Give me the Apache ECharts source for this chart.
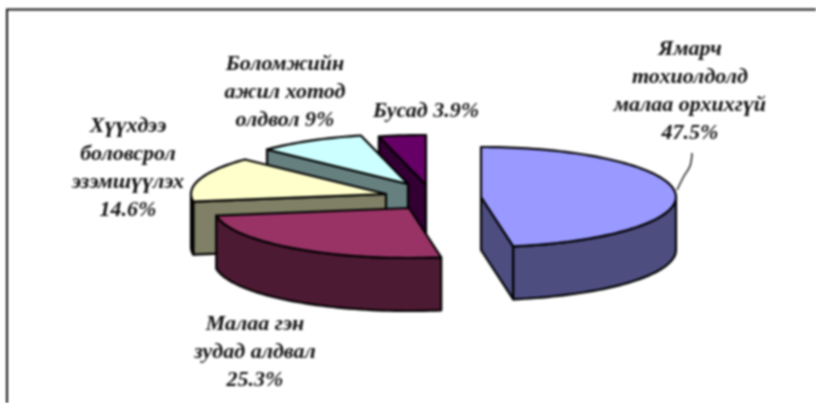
<!DOCTYPE html>
<html><head><meta charset="utf-8">
<style>html,body{margin:0;padding:0;background:#fff;overflow:hidden}#c{width:816px;height:403px;filter:blur(0.85px)}</style>
<script src="https://cdn.jsdelivr.net/npm/echarts@6/dist/echarts.min.js"></script>
</head><body><div id="c"></div>
<script>
const categories = [
  ['Ямарч','тохиолдолд','малаа орхихгүй'],
  ['Малаа гэн','зудад алдвал'],
  ['Хүүхдээ','боловсрол','эзэмшүүлэх'],
  ['Боломжийн','ажил хотод','олдвол'],
  ['Бусад']
];
const values = [47.5, 25.3, 14.6, 9, 3.9];
const topColors = ['#9999FF','#993366','#FFFFCC','#CCFFFF','#660066'];
const sideColors = ['#4D4D80','#4D1A33','#808066','#668080','#330033'];
const apexes = [[481,197],[409,208],[386,194],[408,184],[426,185]];
const labelAnchors = [[690,50],[255,325],[128,127],[285,65],[426,112]];
const inlineValue = [false,false,false,true,true];
const RX=195, RY=50, DEPTH=53, LINE=28;

const total = values.reduce((a,b)=>a+b,0);
const ranges = []; let acc = 0;
values.forEach(v=>{ const s=acc/total*Math.PI*2; acc+=v; ranges.push([s,acc/total*Math.PI*2]); });

function rim(c,t){ return [c[0]+RX*Math.sin(t), c[1]-RY*Math.cos(t)]; }
function arc(c,a,b,dy){ const n=Math.max(2,Math.ceil((b-a)/0.03)), p=[];
  for(let i=0;i<=n;i++){ const q=rim(c,a+(b-a)*i/n); p.push([q[0],q[1]+dy]); } return p; }
function poly(points,fill,z2){ return {type:'polygon',z2,shape:{points},style:{fill,stroke:'#000',lineWidth:2.2,lineJoin:'round'}}; }

function renderItem(params,api){
  const i=params.dataIndex;
  const c=apexes[i], [a,b]=ranges[i], kids=[], base=(values.length-i)*10;
  if(Math.sin(a)<-0.001){ const r=rim(c,a); kids.push(poly([c,r,[r[0],r[1]+DEPTH],[c[0],c[1]+DEPTH]],sideColors[i],base)); }
  if(Math.sin(b)>0.001){ const r=rim(c,b); kids.push(poly([c,r,[r[0],r[1]+DEPTH],[c[0],c[1]+DEPTH]],sideColors[i],base)); }
  const wa=Math.max(a,Math.PI/2), wb=Math.min(b,Math.PI*1.5);
  if(wb>wa){ kids.push(poly(arc(c,wa,wb,0).concat(arc(c,wa,wb,DEPTH).reverse()),sideColors[i],base+1)); }
  kids.push(poly([c].concat(arc(c,a,b,0)),topColors[i],base+2));
  return {type:'group',children:kids};
}
function renderLabels(params,api){
  const i=params.dataIndex, val=api.value(0), p=labelAnchors[i];
  const lines=categories[i].slice(), pct=val+'%';
  if(inlineValue[i]) lines[lines.length-1]+=' '+pct; else lines.push(pct);
  return {type:'group',children:lines.map((t,k)=>({type:'text',x:p[0],y:p[1]+k*LINE,scaleX:1.1,z2:100,style:{
    text:t,x:0,y:0,align:'center',verticalAlign:'middle',
    font:'italic bold 20px "Liberation Serif"',fill:'#111'}}))};
}
const chart=echarts.init(document.getElementById('c'),null,{renderer:'canvas'});
chart.setOption({
  animation:false,backgroundColor:'#fff',
  graphic:[
    {type:'rect',silent:true,z:0,shape:{x:7,y:9.5,width:830,height:420},style:{fill:'#fff',stroke:'#111',lineWidth:2}},
    {type:'polyline',silent:true,z:5,shape:{points:[[677,190],[684,176],[690,166],[692,153]],smooth:0.4},style:{stroke:'#111',lineWidth:1.4,fill:null}}
  ],
  series:[
    {type:'custom',coordinateSystem:'none',z:2,renderItem,data:values.map(v=>[v])},
    {type:'custom',coordinateSystem:'none',z:3,renderItem:renderLabels,data:values.map(v=>[v])}
  ]
});
</script></body></html>
